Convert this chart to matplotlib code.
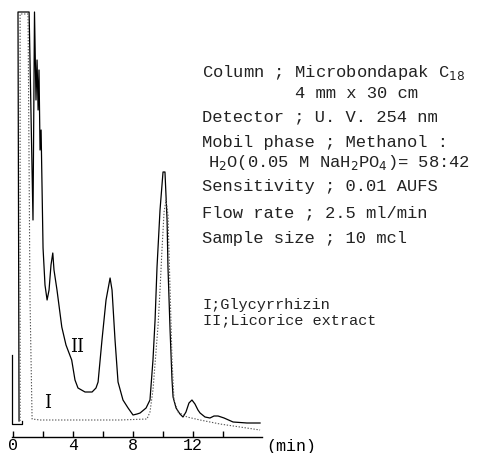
import matplotlib
matplotlib.use("Agg")
import matplotlib.pyplot as plt

# retention time (min) and detector response (arbitrary units)
t_extract = [0.4, 0.33, 1.07, 1.33, 1.43, 1.53, 1.6, 1.67, 1.73, 1.8, 1.87, 2.0, 2.13, 2.27, 2.4,
             2.53, 2.65, 2.73, 2.93, 3.25, 3.53, 3.91, 4.13, 4.33, 4.8, 5.27, 5.53, 5.67, 5.93,
             6.2, 6.47, 6.6, 6.8, 7.0, 7.33, 7.67, 8.0, 8.27, 8.47, 8.87, 9.13, 9.33, 9.47, 9.6,
             9.8, 10.0, 10.13, 10.27, 10.33, 10.47, 10.6, 10.67, 10.87, 11.13, 11.33, 11.53,
             11.73, 11.93, 12.13, 12.33, 12.47, 12.8, 13.13, 13.4, 13.67, 14.07, 14.67, 15.6, 16.47]
a_extract = [-0.01, 4.08, 4.08, 2.0, 4.08, 3.2, 3.6, 3.1, 3.5, 2.7, 2.9, 1.72, 1.35, 1.2, 1.3,
             1.55, 1.67, 1.5, 1.3, 0.93, 0.75, 0.6, 0.4, 0.32, 0.28, 0.28, 0.32, 0.38, 0.8,
             1.2, 1.42, 1.3, 0.8, 0.38, 0.2, 0.12, 0.05, 0.06, 0.07, 0.12, 0.2, 0.6, 1.0, 1.53,
             2.1, 2.48, 2.48, 2.0, 1.53, 0.9, 0.4, 0.23, 0.12, 0.06, 0.03, 0.08,
             0.17, 0.2, 0.16, 0.1, 0.07, 0.03, 0.02, 0.04, 0.04, 0.02, -0.02, -0.03, -0.03]

t_glyc = [0.47, 0.47, 1.0, 1.13, 1.27, 1.8, 4.47, 7.13, 8.93, 9.13, 9.33, 9.53, 9.67, 9.8,
          9.93, 10.07, 10.2, 10.33, 10.47, 10.6, 10.73, 11.0, 11.6, 12.47, 13.8, 15.13, 16.47]
a_glyc = [-0.01, 4.06, 4.06, 1.2, 0.01, 0.0, 0.0, 0.0, 0.01, 0.08, 0.3, 0.68, 0.95, 1.3,
          1.7, 2.08, 2.2, 2.05, 1.3, 0.6, 0.2, 0.08, 0.03, 0.0, -0.04, -0.07, -0.1]

# injection mark
t_inj = [-0.07, -0.07, 0.6, 0.6]
a_inj = [0.65, -0.04, -0.04, -0.01]

xticks = [0, 2, 4, 6, 8, 10, 12, 14]
xticklabels = ['0', '', '4', '', '8', '', '12', '']

conditions = [
    (202, 73, "Column ; Microbondapak C$_{18}$"),
    (295, 94, "4 mm x 30 cm"),
    (202, 117, "Detector ; U. V. 254 nm"),
    (202, 142, "Mobil phase ; Methanol :"),
    (208, 162, "H$_2$O(0.05 M NaH$_2$PO$_4$)= 58:42"),
    (202, 186, "Sensitivity ; 0.01 AUFS"),
    (202, 213, "Flow rate ; 2.5 ml/min"),
    (202, 239, "Sample size ; 10 mcl"),
]
legend_lines = [(203, 305, "I;Glycyrrhizin"), (203, 320, "II;Licorice extract")]

W, H = 495, 453
fig = plt.figure(figsize=(W / 100, H / 100), dpi=100)
ax = fig.add_axes([12 / W, (H - 437) / H, 250 / W, 427 / H])
ax.set_xlim(-0.07, 16.6)
ax.set_ylim(-0.17, 4.1)

ax.plot(t_extract, a_extract, color='black', lw=0.9, clip_on=False)
ax.plot(t_glyc, a_glyc, color='#555555', lw=0.8, ls=(0, (1.2, 1.5)), clip_on=False)
ax.plot(t_inj, a_inj, color='black', lw=0.9, clip_on=False)

ax.text(2.3, 0.17, 'I', family='DejaVu Serif', fontsize=13, ha='center', va='center')
ax.text(4.3, 0.73, 'II', family='DejaVu Serif', fontsize=13, ha='center', va='center')

for s in ['left', 'top', 'right']:
    ax.spines[s].set_visible(False)
ax.spines['bottom'].set_linewidth(1.0)
ax.set_yticks([])
ax.set_xticks(xticks)
ax.set_xticklabels(xticklabels, family='Liberation Mono', fontsize=12)
ax.tick_params(axis='x', direction='in', length=4, width=1.0, pad=1)

fig.text(266 / W, (H - 447) / H, '(min)', family='Liberation Mono', fontsize=12,
         ha='left', va='center')

for x, y, s in conditions:
    fig.text(x / W, (H - y) / H, s, family='Liberation Mono', fontsize=12.3,
             ha='left', va='center', color='#222222')
for x, y, s in legend_lines:
    fig.text(x / W, (H - y) / H, s, family='Liberation Mono', fontsize=11,
             ha='left', va='center', color='#222222')

fig.savefig('out.png', dpi=100)
